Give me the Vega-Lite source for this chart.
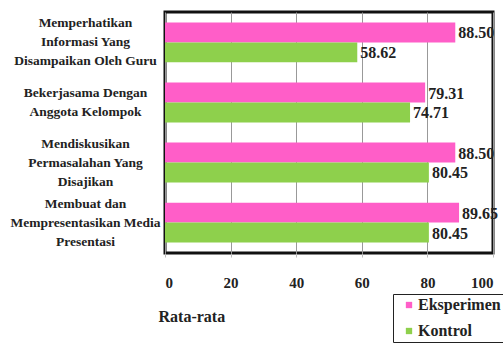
{
  "$schema": "https://vega.github.io/schema/vega-lite/v6.json",
  "autosize": "none",
  "width": 328,
  "height": 241,
  "padding": {"left": 165, "top": 12, "right": 10, "bottom": 95},
  "background": "white",
  "data": {
    "values": [
      {"aspek": "Memperhatikan|Informasi Yang|Disampaikan Oleh Guru", "kelompok": "Eksperimen", "nilai": 88.50},
      {"aspek": "Memperhatikan|Informasi Yang|Disampaikan Oleh Guru", "kelompok": "Kontrol", "nilai": 58.62},
      {"aspek": "Bekerjasama Dengan|Anggota Kelompok", "kelompok": "Eksperimen", "nilai": 79.31},
      {"aspek": "Bekerjasama Dengan|Anggota Kelompok", "kelompok": "Kontrol", "nilai": 74.71},
      {"aspek": "Mendiskusikan|Permasalahan Yang|Disajikan", "kelompok": "Eksperimen", "nilai": 88.50},
      {"aspek": "Mendiskusikan|Permasalahan Yang|Disajikan", "kelompok": "Kontrol", "nilai": 80.45},
      {"aspek": "Membuat dan|Mempresentasikan Media|Presentasi", "kelompok": "Eksperimen", "nilai": 89.65},
      {"aspek": "Membuat dan|Mempresentasikan Media|Presentasi", "kelompok": "Kontrol", "nilai": 80.45}
    ]
  },
  "encoding": {
    "y": {
      "field": "aspek", "type": "nominal", "sort": null,
      "scale": {"paddingInner": 0.337, "paddingOuter": 0.175},
      "axis": {
        "title": null, "ticks": false, "domain": false,
        "labelExpr": "split(datum.label, '|')",
        "labelAlign": "center", "labelPadding": 80, "labelLineHeight": 19,
        "labelOffset": {"condition": {"test": "indexof(datum.value, 'Bekerjasama') === 0", "value": -9.5}, "value": -19},
        "labelFont": "Liberation Serif", "labelFontWeight": "bold", "labelFontSize": 13.5,
        "labelColor": "#222", "labelLimit": 200
      }
    },
    "x": {
      "field": "nilai", "type": "quantitative",
      "scale": {"domain": [0, 100], "nice": false},
      "axis": {
        "values": [0, 20, 40, 60, 80, 100],
        "title": "Rata-rata", "titleAnchor": "start", "titlePadding": 18, "titleX": -7,
        "titleFont": "Liberation Serif", "titleFontWeight": "bold", "titleFontSize": 16, "titleColor": "#222",
        "labelFont": "Liberation Serif", "labelFontWeight": "bold", "labelFontSize": 15, "labelColor": "#222",
        "labelPadding": 18, "tickSize": 4, "tickColor": "#bbb", "domain": false,
        "grid": true, "gridColor": "#999", "gridWidth": 1
      }
    },
    "yOffset": {"field": "kelompok", "type": "nominal", "sort": ["Eksperimen", "Kontrol"], "scale": {"paddingInner": 0, "paddingOuter": 0}}
  },
  "layer": [
    {
      "mark": {"type": "bar"},
      "encoding": {
        "color": {
          "field": "kelompok", "type": "nominal",
          "scale": {"domain": ["Eksperimen", "Kontrol"], "range": ["#ff5ec8", "#8ed04c"]},
          "legend": {
            "title": null, "orient": "none", "legendX": 228, "legendY": 282,
            "strokeColor": "#222", "padding": 3,
            "symbolType": "square", "symbolSize": 40, "symbolOpacity": 1, "symbolOffset": 5,
            "labelFont": "Liberation Serif", "labelFontWeight": "bold", "labelFontSize": 16, "labelColor": "#222",
            "rowPadding": 10, "labelOffset": 1
          }
        }
      }
    },
    {
      "mark": {"type": "text", "align": "left", "dx": 3, "dy": 1, "font": "Liberation Serif", "fontWeight": "bold", "fontSize": 16, "color": "#222"},
      "encoding": {"text": {"field": "nilai", "type": "quantitative", "format": ".2f"}}
    }
  ],
  "config": {
    "view": {"stroke": "#111", "strokeWidth": 3}
  }
}
